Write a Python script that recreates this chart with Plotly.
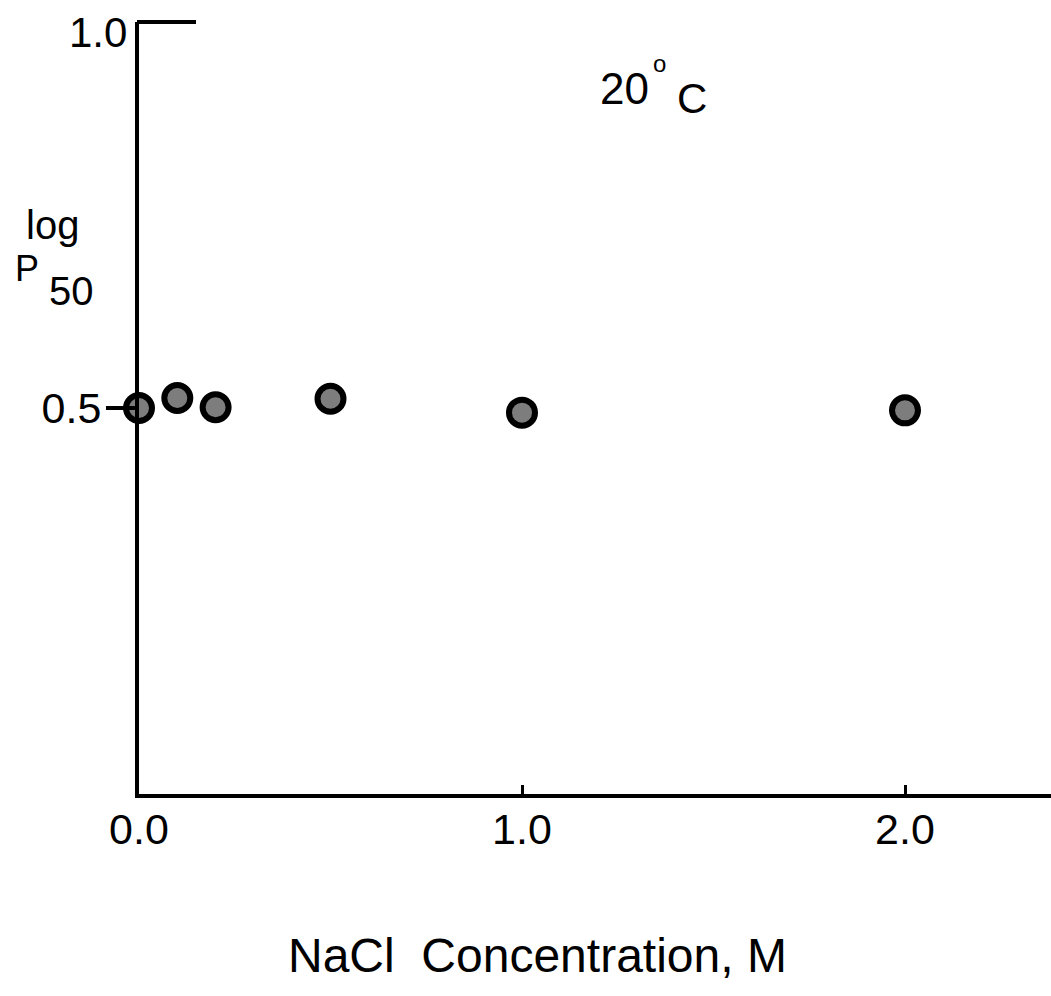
import plotly.graph_objects as go

# Data
nacl_conc = [0.0, 0.1, 0.2, 0.5, 1.0, 2.0]
log_p50 = [0.500, 0.513, 0.501, 0.512, 0.494, 0.497]

x_tick_vals = [0.0, 1.0, 2.0]
x_tick_text = ["0.0", "1.0", "2.0"]
y_tick_vals = [0.5]
y_tick_text = ["0.5"]
y_top_val = 1.0
y_top_text = "1.0"

W, H = 1051, 996
ML, MR, MT, MB = 139, 0, 22, 202
PW, PH = W - ML - MR, H - MT - MB


def px(xp):
    return (xp - ML) / PW


def py(yp):
    return (MT + PH - yp) / PH


FONT = "Liberation Sans, Arial, sans-serif"

fig = go.Figure()
fig.add_trace(go.Scatter(
    x=nacl_conc, y=log_p50, mode="markers", cliponaxis=False,
    marker=dict(size=26, color="#7d7d7d", line=dict(color="black", width=6)),
    showlegend=False,
))

fig.update_layout(
    width=W, height=H,
    margin=dict(l=ML, r=MR, t=MT, b=MB),
    paper_bgcolor="white", plot_bgcolor="white",
    font=dict(family=FONT, color="black"),
    xaxis=dict(
        range=[0, PW / 383.0], showgrid=False, zeroline=False,
        showline=True, linecolor="black", linewidth=4,
        tickvals=x_tick_vals, ticktext=x_tick_text,
        ticks="inside", ticklen=9, tickwidth=3, tickcolor="black",
        tickfont=dict(size=43, family=FONT), ticklabelstandoff=-6,
    ),
    yaxis=dict(
        range=[0, y_top_val], showgrid=False, zeroline=False,
        showline=True, linecolor="black", linewidth=4,
        tickvals=y_tick_vals, ticktext=y_tick_text,
        ticks="outside", ticklen=29, tickwidth=4, tickcolor="black",
        tickfont=dict(size=43, family=FONT), ticklabelstandoff=-4,
    ),
)

# top-of-axis tick at 1.0 pointing into the plot (top of y range = paper 1)
fig.add_shape(type="line", xref="paper", yref="paper",
              x0=px(137), x1=px(196), y0=1.0, y1=1.0,
              line=dict(color="black", width=4))

annots = [
    dict(text=y_top_text, x=px(98), y=py(32), size=42),
    dict(text="NaCl  Concentration, M", x=px(537), y=py(955), size=48),
    dict(text="log", x=px(52), y=py(225), size=40),
    dict(text="P", x=px(27), y=py(268), size=36),
    dict(text="50", x=px(71), y=py(291), size=40),
    dict(text="20", x=px(624), y=py(89), size=44),
    dict(text="o", x=px(659), y=py(64), size=24),
    dict(text="C", x=px(692), y=py(98), size=42),
]
for a in annots:
    fig.add_annotation(
        text=a["text"], x=a["x"], y=a["y"], xref="paper", yref="paper",
        xanchor="center", yanchor="middle", showarrow=False,
        font=dict(size=a["size"], family=FONT, color="black"),
    )

fig.write_html("out.html")
